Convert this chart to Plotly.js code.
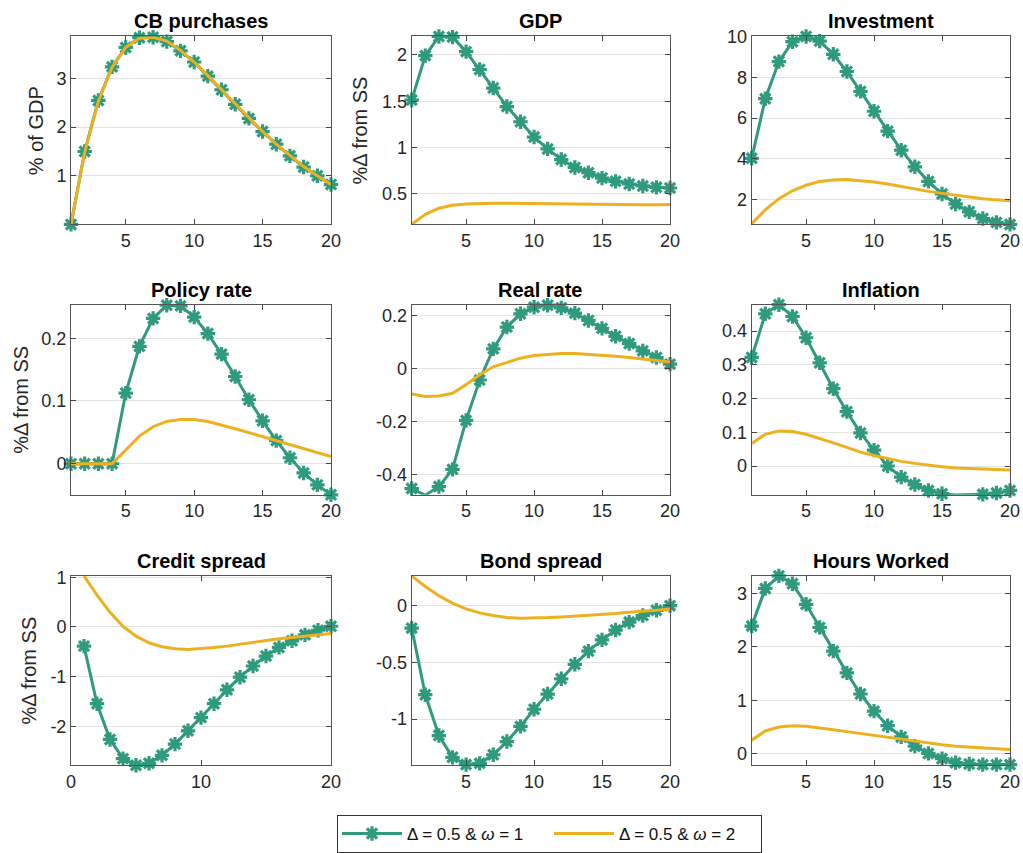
<!DOCTYPE html>
<html>
<head>
<meta charset="utf-8">
<script src="https://cdn.plot.ly/plotly-3.0.1.min.js"></script>
<style>html,body{margin:0;padding:0;background:#fff;}#chart{width:1023px;height:853px;}</style>
</head>
<body>
<div id="chart"></div>
<script>
// ---- data ----
const periods = [1,2,3,4,5,6,7,8,9,10,11,12,13,14,15,16,17,18,19,20];

const panelTitles = ["CB purchases","GDP","Investment","Policy rate","Real rate","Inflation","Credit spread","Bond spread","Hours Worked"];
const seriesNames = ["Δ = 0.5 & <i>ω</i> = 1", "Δ = 0.5 & <i>ω</i> = 2"];

const cbA  = [0,1.50,2.55,3.24,3.64,3.84,3.85,3.76,3.57,3.34,3.05,2.77,2.47,2.18,1.91,1.65,1.41,1.18,1.00,0.82];
const cbB  = [0,1.48,2.53,3.23,3.64,3.83,3.85,3.77,3.58,3.34,3.06,2.77,2.47,2.18,1.91,1.65,1.41,1.19,1.00,0.82];

const gdpA = [1.514,1.993,2.200,2.193,2.036,1.843,1.643,1.443,1.279,1.114,0.986,0.871,0.786,0.729,0.671,0.636,0.607,0.586,0.571,0.564];
const gdpB = [0.171,0.280,0.345,0.378,0.392,0.398,0.400,0.400,0.398,0.395,0.392,0.389,0.386,0.384,0.382,0.381,0.381,0.382,0.383,0.385];

const invA = [4.02,6.96,8.79,9.77,10.03,9.80,9.15,8.30,7.32,6.34,5.36,4.42,3.60,2.88,2.26,1.77,1.38,1.05,0.86,0.76];
const invB = [0.79,1.48,2.03,2.42,2.69,2.88,2.95,2.98,2.91,2.85,2.75,2.62,2.49,2.39,2.29,2.20,2.10,2.03,1.97,1.93];

const polA = [0,0,0,0,0.1126,0.187,0.2316,0.2526,0.2516,0.2337,0.2074,0.1747,0.139,0.102,0.0684,0.0368,0.0095,-0.0147,-0.0337,-0.0495];
const polB = [0,0,0,0,0.022,0.044,0.059,0.0674,0.0705,0.0705,0.0674,0.062,0.0558,0.0495,0.0432,0.0368,0.0305,0.0242,0.0179,0.0116];

const rrA  = [-0.4525,-0.4775,-0.445,-0.38,-0.195,-0.0425,0.075,0.1575,0.2075,0.2325,0.24,0.23,0.21,0.1825,0.1525,0.1225,0.095,0.0675,0.0425,0.0175];
const rrB  = [-0.095,-0.105,-0.1025,-0.0925,-0.06,-0.0225,0.0075,0.025,0.04,0.05,0.055,0.0575,0.0575,0.055,0.0525,0.0475,0.0425,0.0375,0.0325,0.025];

const infA = [0.3216,0.451,0.478,0.443,0.380,0.306,0.229,0.161,0.098,0.047,0.0,-0.033,-0.055,-0.0725,-0.082,-0.086,-0.086,-0.084,-0.080,-0.0725];
const infB = [0.0667,0.094,0.104,0.102,0.094,0.082,0.0686,0.055,0.041,0.031,0.0216,0.0137,0.0078,0.002,-0.002,-0.006,-0.008,-0.0098,-0.0118,-0.0118];

const csA  = [-0.387,-1.547,-2.267,-2.653,-2.787,-2.747,-2.587,-2.36,-2.093,-1.827,-1.547,-1.267,-1.013,-0.787,-0.587,-0.413,-0.28,-0.16,-0.067,0.013];
const csB  = [1.027,0.64,0.293,0.013,-0.187,-0.32,-0.40,-0.44,-0.453,-0.44,-0.413,-0.387,-0.347,-0.307,-0.267,-0.24,-0.213,-0.187,-0.16,-0.133];

const bsA  = [-0.198,-0.785,-1.145,-1.337,-1.401,-1.39,-1.314,-1.198,-1.064,-0.913,-0.779,-0.645,-0.517,-0.401,-0.302,-0.215,-0.145,-0.087,-0.041,0.0];
const bsB  = [0.262,0.169,0.087,0.023,-0.029,-0.064,-0.087,-0.105,-0.110,-0.110,-0.105,-0.099,-0.093,-0.087,-0.076,-0.07,-0.058,-0.052,-0.041,-0.029];

const hrsA = [2.393,3.10,3.335,3.187,2.802,2.368,1.922,1.513,1.116,0.794,0.521,0.31,0.136,0.0,-0.099,-0.174,-0.198,-0.211,-0.211,-0.211];
const hrsB = [0.248,0.422,0.496,0.521,0.508,0.484,0.446,0.409,0.372,0.335,0.298,0.26,0.223,0.186,0.161,0.136,0.124,0.099,0.087,0.074];

// tick labels
const xTicksA = [5,10,15,20];
const xTicksB = [0,10,20];
const yTicks = [
  {v:[1,2,3], t:["1","2","3"]},
  {v:[0.5,1,1.5,2], t:["0.5","1","1.5","2"]},
  {v:[2,4,6,8,10], t:["2","4","6","8","10"]},
  {v:[0,0.1,0.2], t:["0","0.1","0.2"]},
  {v:[-0.4,-0.2,0,0.2], t:["-0.4","-0.2","0","0.2"]},
  {v:[0,0.1,0.2,0.3,0.4], t:["0","0.1","0.2","0.3","0.4"]},
  {v:[-2,-1,0,1], t:["-2","-1","0","1"]},
  {v:[-1,-0.5,0], t:["-1","-0.5","0"]},
  {v:[0,1,2,3], t:["0","1","2","3"]}
];
const yLabels = ["% of GDP","%Δ from SS","","%Δ from SS","","","%Δ from SS","",""];

// ---- layout/style ----
const seriesA = [cbA,gdpA,invA,polA,rrA,infA,csA,bsA,hrsA];
const seriesB = [cbB,gdpB,invB,polB,rrB,infB,csB,bsB,hrsB];
const yRanges = [[0,3.866],[0.171,2.2],[0.76,10.03],[-0.0495,0.2537],[-0.476,0.2425],[-0.0853,0.4784],[-2.787,1.027],[-1.407,0.262],[-0.223,3.335]];

const W = 1023, H = 853;
const colPx = [[71,331],[411.7,670],[751.7,1010]];
const rowPx = [[36.7,226],[306.7,498.3],[580,770.7]];
const green = '#2f9a7e', gold = '#EDB120';

const traces = [];
const layout = {
  width: W, height: H,
  margin: {l:0,r:0,t:0,b:0},
  paper_bgcolor: '#fff', plot_bgcolor: '#fff',
  font: {family: 'Liberation Sans, Arial, sans-serif', size: 18, color: '#262626'},
  showlegend: true,
  legend: {
    orientation: 'h', x: 337/W, xanchor: 'left', y: 1-821/H, yanchor: 'top',
    bordercolor: '#333', borderwidth: 1, bgcolor: '#fff',
    font: {size: 17, color: '#111'}, entrywidth: 137, entrywidthmode: 'pixels',
    itemwidth: 60, tracegroupgap: 0
  },
  annotations: []
};

for (let i = 0; i < 9; i++) {
  const r = Math.floor(i/3), c = i % 3;
  const n = i + 1;
  const xa = 'xaxis' + (n===1?'':n), ya = 'yaxis' + (n===1?'':n);
  const xr = 'x' + (n===1?'':n), yr = 'y' + (n===1?'':n);
  const isCredit = (i === 6);
  layout[xa] = {
    domain: [colPx[c][0]/W, colPx[c][1]/W],
    anchor: yr,
    range: isCredit ? [0,20] : [1,20],
    tickvals: isCredit ? xTicksB : xTicksA,
    ticks: 'inside', ticklen: 5, tickcolor: '#444', tickwidth: 1,
    showline: true, linecolor: '#555', linewidth: 1, mirror: 'ticks',
    showgrid: false, zeroline: false,
    tickfont: {size: 18, color: '#262626'}
  };
  layout[ya] = {
    domain: [1-rowPx[r][1]/H, 1-rowPx[r][0]/H],
    anchor: xr,
    range: yRanges[i],
    tickvals: yTicks[i].v, ticktext: yTicks[i].t,
    ticks: 'inside', ticklen: 5, tickcolor: '#444', tickwidth: 1,
    showline: true, linecolor: '#555', linewidth: 1, mirror: 'ticks',
    showgrid: true, gridcolor: '#e3e3e3', gridwidth: 1, zeroline: false,
    tickfont: {size: 18, color: '#262626'}
  };
  traces.push({
    x: periods, y: seriesA[i], xaxis: xr, yaxis: yr, type: 'scatter', mode: 'lines+markers',
    name: seriesNames[0], showlegend: i===0, legendgroup: 'a',
    line: {color: green, width: 3},
    marker: {symbol: 'asterisk-open', size: 12, color: green, line: {color: green, width: 3.2}},
    cliponaxis: false
  });
  traces.push({
    x: periods, y: seriesB[i], xaxis: xr, yaxis: yr, type: 'scatter', mode: 'lines',
    name: seriesNames[1], showlegend: i===0, legendgroup: 'b',
    line: {color: gold, width: 3}
  });
  // panel title
  layout.annotations.push({
    text: '<b>' + panelTitles[i] + '</b>', xref: 'paper', yref: 'paper',
    x: (colPx[c][0]+colPx[c][1])/2/W, y: 1-(rowPx[r][0]-2)/H, xanchor: 'center', yanchor: 'bottom',
    showarrow: false, font: {size: 20, color: '#000'}
  });
}
const yLabelX = [36.7, 360, 0, 21, 0, 0, 29, 0, 0];
for (let i = 0; i < 9; i++) {
  if (!yLabels[i]) continue;
  const r = Math.floor(i/3);
  layout.annotations.push({
    text: yLabels[i], xref: 'paper', yref: 'paper',
    x: yLabelX[i]/W, y: 1-(rowPx[r][0]+rowPx[r][1])/2/H, xanchor: 'center', yanchor: 'middle',
    textangle: -90, showarrow: false, font: {size: 20, color: '#262626'}
  });
}

Plotly.newPlot('chart', traces, layout, {staticPlot: true, displayModeBar: false});
</script>
</body>
</html>
